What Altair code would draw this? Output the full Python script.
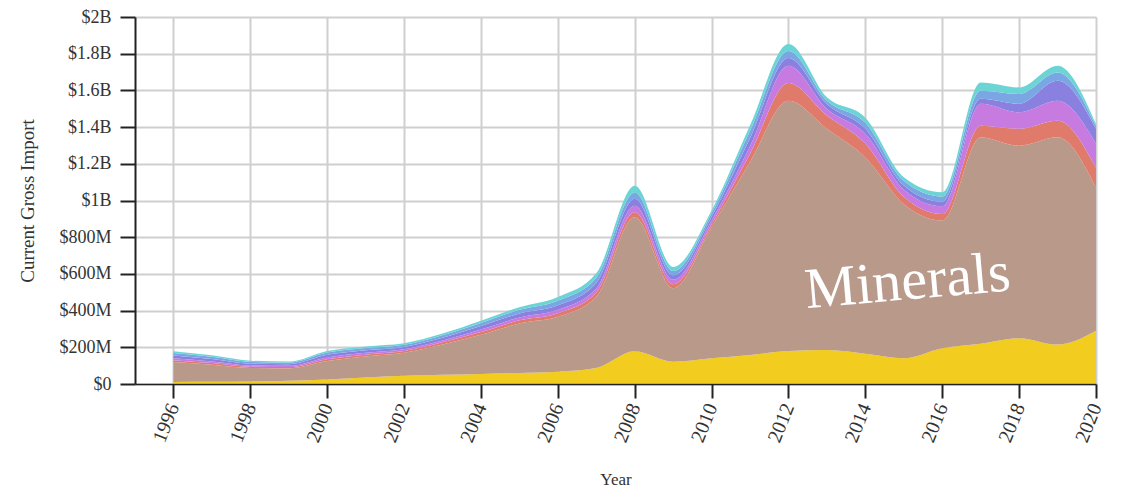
import altair as alt
import pandas as pd

years = list(range(1996, 2021))
layers = ["Other", "Vegetable Products", "Minerals", "Chemical Products",
          "Plastics and Rubbers", "Metals", "Machines", "Transportation"]
colors = ["#8BC34A", "#F2CC1E", "#B9998A", "#E07A6B",
          "#C77BE0", "#8A80E0", "#7AA7E3", "#6CD4D4"]

# values in millions of US$
other    = [5] * 25
vegetable = [6, 7, 9, 13, 20, 30, 40, 45, 50, 55, 62, 82, 173, 116, 135, 153,
             175, 180, 160, 135, 190, 215, 245, 210, 285]
minerals = [109, 93, 73, 67, 100, 115, 125, 165, 213, 270, 299, 387, 731, 401,
            715, 1052, 1363, 1206, 1069, 840, 696, 1124, 1049, 1130, 781]
chemical = [10, 9, 7, 7, 10, 10, 10, 12, 15, 17, 20, 25, 27, 22, 16, 45, 98,
            72, 76, 40, 35, 64, 92, 90, 108]
plastics = [10, 9, 7, 7, 10, 10, 9, 10, 14, 15, 18, 22, 36, 24, 20, 40, 93,
            36, 54, 40, 42, 119, 89, 108, 131]
metals   = [15, 13, 10, 9, 14, 14, 13, 15, 19, 22, 25, 30, 38, 24, 20, 45, 43,
            27, 27, 22, 25, 27, 47, 109, 81]
machines = [14, 12, 9, 8, 12, 12, 12, 14, 17, 20, 25, 28, 34, 24, 20, 40, 38,
            18, 33, 25, 28, 44, 53, 45, 14]
transport = [10, 9, 7, 6, 9, 9, 8, 9, 12, 14, 20, 24, 36, 22, 15, 30, 38,
             18, 27, 20, 24, 45, 36, 37, 12]

series = [other, vegetable, minerals, chemical, plastics, metals, machines, transport]

rows = []
for idx, (name, vals) in enumerate(zip(layers, series)):
    for yr, v in zip(years, vals):
        rows.append({"Year": yr, "Value": v, "Section": name, "idx": idx})
df = pd.DataFrame(rows)

label_text = ["Minerals"]
label_year = [2015.1]
label_value = [554]
lab = pd.DataFrame({"t": label_text, "Year": label_year, "Value": label_value})

tick_years = list(range(1996, 2021, 2))
y_ticks = list(range(0, 2001, 200))

FONT = "Liberation Serif"

x_scale = alt.Scale(domain=[1995, 2020], nice=False, zero=False)
y_scale = alt.Scale(domain=[0, 2000], nice=False)

x_axis = alt.Axis(
    values=tick_years, format="d", title="Year", labelAngle=292,
    labelOverlap=False,
    tickSize=14, tickWidth=2, tickColor="#222", domainColor="#222",
    domainWidth=1.5, labelFont=FONT, labelFontSize=20, labelColor="#333",
    labelPadding=6, titleFont=FONT, titleFontSize=17, titleFontWeight="normal",
    titleColor="#333", titlePadding=27, grid=True, gridColor="#cfcfcf",
    gridWidth=2,
)
y_axis = alt.Axis(
    values=y_ticks, title="Current Gross Import", labelOverlap=False,
    labelExpr="datum.value == 0 ? '$0' : (datum.value >= 1000 ? '$' + format(datum.value/1000, '~g') + 'B' : '$' + format(datum.value, '~g') + 'M')",
    tickSize=15, tickWidth=2, tickColor="#222", domainColor="#222",
    domainWidth=2, labelFont=FONT, labelFontSize=18, labelColor="#333",
    labelPadding=9, titleFont=FONT, titleFontSize=19, titleFontWeight="normal",
    titleColor="#333", titlePadding=21, grid=True, gridColor="#cfcfcf",
    gridWidth=2,
)

area = alt.Chart(df).mark_area(interpolate="monotone").encode(
    x=alt.X("Year:Q", scale=x_scale, axis=x_axis),
    y=alt.Y("Value:Q", stack="zero", scale=y_scale, axis=y_axis),
    color=alt.Color("Section:N", scale=alt.Scale(domain=layers, range=colors), legend=None),
    order=alt.Order("idx:Q", sort="ascending"),
)

text = alt.Chart(lab).mark_text(
    font=FONT, fontSize=58, color="white", angle=355, align="center", baseline="middle"
).encode(
    x=alt.X("Year:Q", scale=x_scale, axis=x_axis),
    y=alt.Y("Value:Q", scale=y_scale, axis=y_axis),
    text="t:N",
)

chart = alt.layer(area, text).properties(
    width=961, height=367,
    autosize=alt.AutoSizeParams(type="none"),
    padding={"left": 127, "top": 9, "right": 23, "bottom": 108},
).configure_view(stroke=None).configure(background="white")

chart.save("out.html", embed_options={"renderer": "svg", "actions": False})
